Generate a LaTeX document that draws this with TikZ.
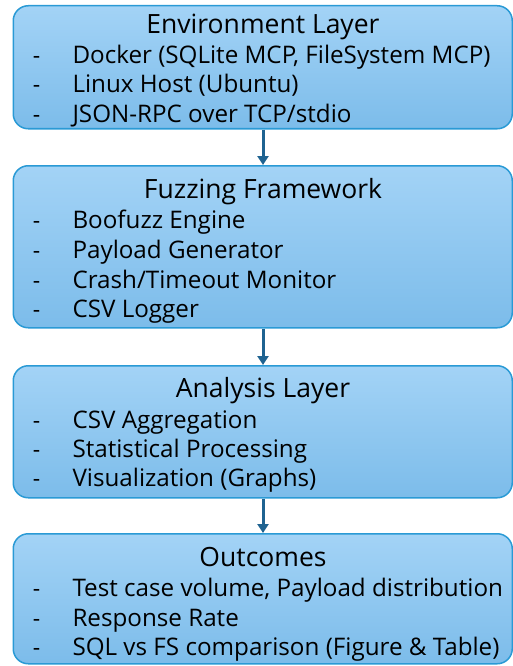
\documentclass[tikz,border=0pt]{standalone}
\usepackage{fontspec}
\setmainfont{Open Sans}
\usetikzlibrary{arrows.meta}
\definecolor{boxtop}{HTML}{A3D3F6}
\definecolor{boxbot}{HTML}{7CBCEA}
\definecolor{boxline}{HTML}{2A9AD5}
\definecolor{arrowc}{HTML}{1F6391}
\tikzset{
  layer/.style={draw=boxline, line width=1.5pt, rounded corners=15pt,
    top color=boxtop, bottom color=boxbot, anchor=north west,
    inner sep=0pt, minimum width=499pt},
  ltitle/.style={anchor=base, font=\fontsize{26.5}{26.5}\selectfont},
  litem/.style={anchor=base west, font=\fontsize{24.2}{24.2}\selectfont},
  ldash/.style={anchor=base, font=\fontsize{23}{23}\selectfont},
  flow/.style={draw=arrowc, line width=3pt, -{Triangle[width=11pt,length=9pt]}}
}
\begin{document}
\begin{tikzpicture}[x=1pt, y=-1pt]
  \useasboundingbox (0,0) rectangle (513,666);

  % layer boxes
  \node[layer, minimum height=123pt] (env)  at (12.5,5)   {};
  \node[layer, minimum height=162pt] (fuzz) at (12.5,165) {};
  \node[layer, minimum height=132pt] (ana)  at (12.5,365) {};
  \node[layer, minimum height=130pt] (out)  at (12.5,533) {};

  % Environment Layer
  \node[ltitle] (env-t) at (263,34) {Environment Layer};
  \foreach \y/\txt [count=\i] in {64/{Docker (SQLite MCP, FileSystem MCP)},
                                  93/{Linux Host (Ubuntu)},
                                  122/{JSON-RPC over TCP/stdio}} {
    \node[ldash] (env-d\i) at (36.5,\y) {-};
    \node[litem] (env-\i) at (69,\y) {\txt};
  }

  % Fuzzing Framework
  \node[ltitle] (fuzz-t) at (263,198) {Fuzzing Framework};
  \foreach \y/\txt [count=\i] in {228/{Boofuzz Engine},
                                  258/{Payload Generator},
                                  288/{Crash/Timeout Monitor},
                                  317/{CSV Logger}} {
    \node[ldash] (fuzz-d\i) at (36.5,\y) {-};
    \node[litem] (fuzz-\i) at (69,\y) {\txt};
  }

  % Analysis Layer
  \node[ltitle] (ana-t) at (263,397) {Analysis Layer};
  \foreach \y/\txt [count=\i] in {428/{CSV Aggregation},
                                  457/{Statistical Processing},
                                  486/{Visualization (Graphs)}} {
    \node[ldash] (ana-d\i) at (36.5,\y) {-};
    \node[litem] (ana-\i) at (69,\y) {\txt};
  }

  % Outcomes
  \node[ltitle] (out-t) at (263,566) {Outcomes};
  \foreach \y/\txt [count=\i] in {596/{Test case volume, Payload distribution},
                                  626/{Response Rate},
                                  655/{SQL vs FS comparison (Figure \& Table)}} {
    \node[ldash] (out-d\i) at (36.5,\y) {-};
    \node[litem] (out-\i) at (69,\y) {\txt};
  }

  % flow between layers
  \draw[flow] (env.south -| env-t) -- (fuzz.north -| env-t);
  \draw[flow] (fuzz.south -| env-t) -- (ana.north -| env-t);
  \draw[flow] (ana.south -| env-t) -- (out.north -| env-t);
\end{tikzpicture}
\end{document}
